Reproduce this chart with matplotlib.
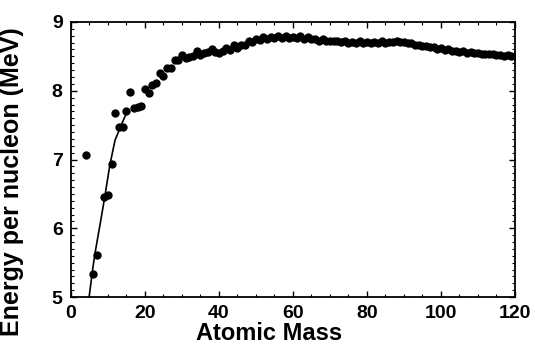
import numpy as np
import matplotlib
matplotlib.use("Agg")
import matplotlib.pyplot as plt
from matplotlib.ticker import MultipleLocator

plt.rcParams['font.family'] = ['Liberation Sans', 'DejaVu Sans']
plt.rcParams['font.weight'] = 'bold'

# binding energy per nucleon
mass = [4, 6, 7, 9, 10, 11, 12, 13, 14, 15, 16, 17, 18, 19, 20, 21, 22, 23, 24, 25,
        26, 27, 28, 29, 30, 31, 32, 33, 34, 35, 36, 37, 38, 39, 40, 41, 42, 43, 44, 45,
        46, 47, 48, 49, 50, 51, 52, 53, 54, 55, 56, 57, 58, 59, 60, 61, 62, 63, 64, 65,
        66, 67, 68, 69, 70, 71, 72, 73, 74, 75, 76, 77, 78, 79, 80, 81, 82, 83, 84, 85,
        86, 87, 88, 89, 90, 91, 92, 93, 94, 95, 96, 97, 98, 99, 100, 101, 102, 103, 104, 105,
        106, 107, 108, 109, 110, 111, 112, 113, 114, 115, 116, 117, 118, 119, 120]
energy = [7.07, 5.33, 5.61, 6.46, 6.48, 6.93, 7.68, 7.47, 7.48, 7.70, 7.98, 7.75, 7.77, 7.78, 8.03, 7.97, 8.08, 8.11, 8.26, 8.22,
          8.33, 8.33, 8.45, 8.45, 8.52, 8.48, 8.49, 8.50, 8.58, 8.52, 8.55, 8.57, 8.61, 8.56, 8.55, 8.58, 8.62, 8.60, 8.66, 8.62,
          8.66, 8.66, 8.72, 8.71, 8.76, 8.74, 8.78, 8.76, 8.78, 8.77, 8.79, 8.77, 8.79, 8.77, 8.78, 8.77, 8.79, 8.75, 8.78, 8.76,
          8.76, 8.73, 8.76, 8.72, 8.72, 8.72, 8.73, 8.71, 8.73, 8.70, 8.71, 8.69, 8.72, 8.69, 8.71, 8.70, 8.71, 8.70, 8.72, 8.70,
          8.71, 8.71, 8.73, 8.71, 8.71, 8.69, 8.69, 8.66, 8.67, 8.65, 8.65, 8.64, 8.64, 8.61, 8.62, 8.60, 8.61, 8.58, 8.58, 8.57,
          8.58, 8.55, 8.57, 8.55, 8.55, 8.54, 8.54, 8.53, 8.53, 8.52, 8.52, 8.51, 8.52, 8.50, 8.50]

# fitted curve for the light nuclei
fit_mass = [4.9, 5.9, 6.5, 8.0, 9.2, 10.5, 11.9, 13.8, 15.4]
fit_energy = [5.0, 5.42, 5.64, 6.10, 6.48, 6.92, 7.28, 7.53, 7.72]

fig = plt.figure(figsize=(5.35, 3.52), dpi=100)
ax = fig.add_axes([0.1327, 0.15625, 0.8299, 0.78125])

ax.plot(mass, energy, 'o', color='black', markersize=6, markeredgewidth=0)
ax.plot(fit_mass, fit_energy, '-', color='black', linewidth=1.2)

ax.set_xlim(0, 120)
ax.set_ylim(5, 9)
ax.xaxis.set_major_locator(MultipleLocator(20))
ax.xaxis.set_minor_locator(MultipleLocator(5))
ax.yaxis.set_major_locator(MultipleLocator(1))
ax.yaxis.set_minor_locator(MultipleLocator(0.1))
ax.tick_params(which='both', direction='in', top=True, right=True, labelsize=14)
ax.tick_params(which='major', length=4, width=1, pad=6)
ax.tick_params(which='minor', length=2, width=0.8)
for s in ax.spines.values():
    s.set_linewidth(1.3)

ax.set_xlabel('Atomic Mass', fontsize=17, fontweight='bold')
ax.set_ylabel('Energy per nucleon (MeV)', fontsize=18, fontweight='bold')
ax.xaxis.set_label_coords(0.446, -0.09)
ax.yaxis.set_label_coords(-0.105, 0.42)

fig.savefig('out.png', dpi=100)
